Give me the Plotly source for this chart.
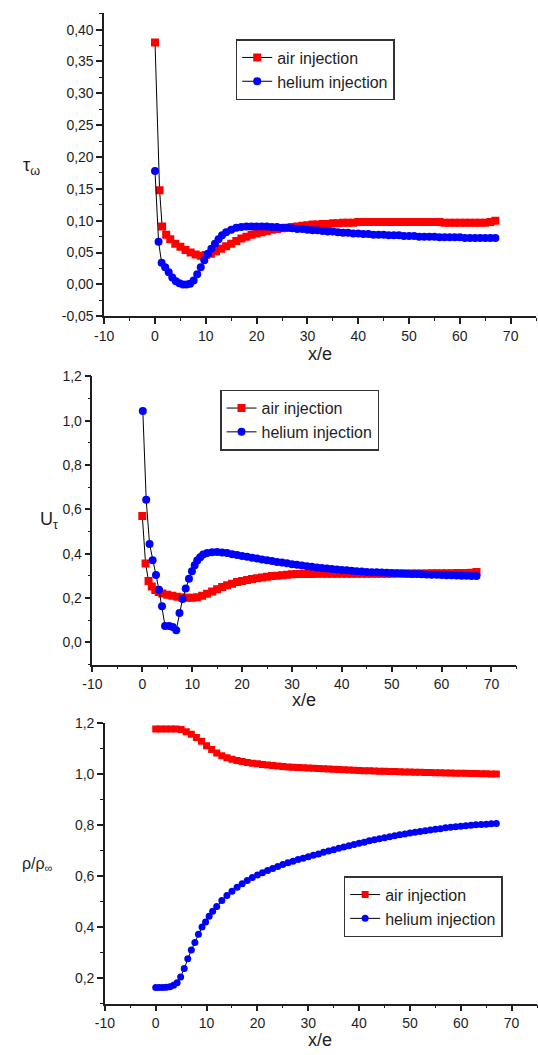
import plotly.graph_objects as go

# ---------------- data ----------------
# wall shear stress tau_w
tau_air_x = [0, 0.9, 1.4, 2.2, 3, 4, 5, 6, 7, 8, 9, 10, 11, 12, 13, 14, 15, 16, 17, 18, 19, 20,
             21, 22, 23, 24, 25, 26, 27, 28, 29, 30, 31, 32, 33, 34, 35, 36, 37, 38, 39, 40,
             41, 42, 43, 44, 45, 46, 47, 48, 49, 50, 51, 52, 53, 54, 55, 56, 57, 58, 59, 60,
             61, 62, 63, 64, 65, 66, 67]
tau_air_y = [0.380, 0.148, 0.091, 0.078, 0.071, 0.064, 0.059, 0.054, 0.050, 0.047, 0.045, 0.046,
             0.048, 0.052, 0.056, 0.060, 0.064, 0.068, 0.072, 0.075, 0.078, 0.080,
             0.082, 0.084, 0.086, 0.087, 0.088, 0.089, 0.090, 0.091, 0.092, 0.093, 0.094, 0.094,
             0.095, 0.095, 0.096, 0.096, 0.097, 0.097, 0.097, 0.098,
             0.098, 0.098, 0.098, 0.098, 0.098, 0.098, 0.098, 0.098, 0.098, 0.098, 0.098, 0.098,
             0.098, 0.098, 0.098, 0.098, 0.097, 0.097, 0.097, 0.097,
             0.097, 0.097, 0.097, 0.097, 0.097, 0.098, 0.100]

tau_he_x = [0, 0.7, 1.3, 2, 2.7, 3.4, 4.1, 4.8, 5.5, 6.2, 6.9, 7.6, 8.3, 9, 9.7, 10.4, 11.1, 11.8,
            12.5, 13.2, 14, 15, 16, 17, 18, 19, 20, 21, 22, 23, 24, 25, 26, 27, 28, 29, 30,
            31, 32, 33, 34, 35, 36, 37, 38, 39, 40, 41, 42, 43, 44, 45, 46, 47, 48, 49, 50,
            51, 52, 53, 54, 55, 56, 57, 58, 59, 60, 61, 62, 63, 64, 65, 66, 67]
tau_he_y = [0.178, 0.067, 0.034, 0.027, 0.019, 0.011, 0.005, 0.002, 0.000, 0.000, 0.001, 0.006,
            0.016, 0.027, 0.038, 0.048, 0.056, 0.064, 0.071, 0.077, 0.082, 0.086, 0.089, 0.090,
            0.091, 0.091, 0.091, 0.091, 0.091, 0.090, 0.090, 0.089, 0.089, 0.088, 0.087, 0.087,
            0.086, 0.085, 0.085, 0.084, 0.083, 0.083, 0.082, 0.081, 0.081, 0.080, 0.080,
            0.079, 0.079, 0.078, 0.078, 0.078, 0.077, 0.077, 0.077, 0.076, 0.076,
            0.076, 0.075, 0.075, 0.075, 0.075, 0.074, 0.074, 0.074, 0.074, 0.074,
            0.073, 0.073, 0.073, 0.073, 0.073, 0.073, 0.073]

# friction velocity U_tau
u_air_x = [0, 0.65, 1.25, 1.9, 2.6, 3.3, 4, 5, 6, 7, 8, 9, 10, 11, 12, 13, 14, 15, 16, 17, 18,
           19, 20, 21, 22, 23, 24, 25, 26, 27, 28, 29, 30, 31, 32, 33, 34, 35, 36, 37, 38, 39,
           40, 41, 42, 43, 44, 45, 46, 47, 48, 49, 50, 51, 52, 53, 54, 55, 56, 57, 58, 59, 60,
           61, 62, 63, 64, 65, 66, 67]
u_air_y = [0.570, 0.356, 0.277, 0.252, 0.236, 0.227, 0.221, 0.215, 0.210, 0.206, 0.203, 0.201,
           0.201, 0.204, 0.210, 0.220, 0.230, 0.240, 0.250, 0.258, 0.265,
           0.272, 0.277, 0.282, 0.286, 0.289, 0.293, 0.296, 0.299, 0.301, 0.303, 0.305, 0.307,
           0.308, 0.308, 0.309, 0.309, 0.310, 0.310, 0.310, 0.310, 0.310,
           0.310, 0.310, 0.310, 0.310, 0.310, 0.310, 0.310, 0.310, 0.310, 0.310, 0.310,
           0.311, 0.311, 0.311, 0.311, 0.311, 0.311, 0.311, 0.312, 0.312, 0.312,
           0.312, 0.312, 0.313, 0.313, 0.313, 0.314, 0.318]

u_he_x = [0.1, 0.78, 1.45, 2.06, 2.74, 3.34, 3.95, 4.56, 5.4, 6.1, 6.8, 7.45, 8.07, 8.7, 9.35,
          9.95, 10.5, 11, 11.6, 12.2, 13, 14, 15, 16, 17, 18, 19, 20, 21, 22, 23, 24, 25, 26,
          27, 28, 29, 30, 31, 32, 33, 34, 35, 36, 37, 38, 39, 40, 41, 42, 43, 44, 45, 46, 47,
          48, 49, 50, 51, 52, 53, 54, 55, 56, 57, 58, 59, 60, 61, 62, 63, 64, 65, 66, 67]
u_he_y = [1.044, 0.643, 0.444, 0.370, 0.304, 0.237, 0.163, 0.074, 0.074, 0.070, 0.055, 0.133,
          0.196, 0.243, 0.287, 0.321, 0.348, 0.369, 0.384, 0.396, 0.403, 0.407, 0.408, 0.406,
          0.403, 0.398, 0.394, 0.390, 0.386, 0.382, 0.378, 0.374, 0.370, 0.367,
          0.363, 0.360, 0.357, 0.353, 0.350, 0.347, 0.344, 0.341, 0.338, 0.336, 0.333, 0.331,
          0.329, 0.327, 0.325, 0.323, 0.321, 0.320, 0.318, 0.317, 0.316,
          0.315, 0.314, 0.313, 0.312, 0.311, 0.310, 0.309, 0.308, 0.307, 0.306, 0.305, 0.305,
          0.304, 0.303, 0.303, 0.302, 0.301, 0.301, 0.300, 0.300]

# density ratio rho/rho_inf
rho_air_x = [0, 1, 2, 3, 4, 5, 6, 7, 8, 9, 10, 11, 12, 13, 14, 15, 16, 17, 18, 19, 20, 21, 22,
             23, 24, 25, 26, 27, 28, 29, 30, 31, 32, 33, 34, 35, 36, 37, 38, 39, 40, 41, 42, 43,
             44, 45, 46, 47, 48, 49, 50, 51, 52, 53, 54, 55, 56, 57, 58, 59, 60, 61, 62, 63,
             64, 65, 66, 67]
rho_air_y = [1.176, 1.176, 1.176, 1.176, 1.176, 1.174, 1.166, 1.156, 1.143, 1.128, 1.111, 1.096,
             1.082, 1.072, 1.064, 1.058, 1.053, 1.049, 1.045, 1.042, 1.040, 1.037, 1.035,
             1.033, 1.031, 1.029, 1.028, 1.027, 1.026, 1.025, 1.024, 1.023, 1.022, 1.021, 1.020,
             1.019, 1.018, 1.017, 1.016, 1.015, 1.014, 1.013, 1.013, 1.012,
             1.011, 1.011, 1.010, 1.010, 1.009, 1.008, 1.008, 1.007, 1.007, 1.006, 1.006, 1.005,
             1.005, 1.004, 1.004, 1.003, 1.003, 1.003, 1.002, 1.002,
             1.001, 1.001, 1.000, 1.000]

rho_he_x = [0, 0.7, 1.4, 2.1, 2.8, 3.5, 4.2, 4.9, 5.6, 6.3, 7, 7.7, 8.4, 9.1, 9.8, 10.5, 11.2,
            12, 13, 14, 15, 16, 17, 18, 19, 20, 21, 22, 23, 24, 25, 26, 27, 28, 29, 30, 31, 32,
            33, 34, 35, 36, 37, 38, 39, 40, 41, 42, 43, 44, 45, 46, 47, 48, 49, 50, 51, 52, 53,
            54, 55, 56, 57, 58, 59, 60, 61, 62, 63, 64, 65, 66, 67]
rho_he_y = [0.163, 0.163, 0.163, 0.164, 0.166, 0.172, 0.182, 0.205, 0.238, 0.276, 0.310, 0.340,
            0.372, 0.400, 0.420, 0.443, 0.462, 0.481, 0.504, 0.524, 0.541, 0.556, 0.570, 0.583,
            0.594, 0.604, 0.613, 0.622, 0.630, 0.638, 0.645, 0.652, 0.658, 0.665, 0.670, 0.676,
            0.682, 0.687, 0.693, 0.698, 0.703, 0.709, 0.714, 0.719, 0.724, 0.729, 0.733, 0.738,
            0.742, 0.746, 0.750, 0.754, 0.758, 0.762, 0.765, 0.769, 0.772, 0.775, 0.778, 0.781,
            0.784, 0.786, 0.789, 0.791, 0.793, 0.795, 0.797, 0.799, 0.801, 0.802, 0.803, 0.805,
            0.806]

series_names = ["air injection", "helium injection"]

x_major = [-10, 0, 10, 20, 30, 40, 50, 60, 70]
x_major_text = ["-10", "0", "10", "20", "30", "40", "50", "60", "70"]
x_minor = [-5, 5, 15, 25, 35, 45, 55, 65, 75]

tau_major = [-0.05, 0.0, 0.05, 0.10, 0.15, 0.20, 0.25, 0.30, 0.35, 0.40]
tau_major_text = ["-0,05", "0,00", "0,05", "0,10", "0,15", "0,20", "0,25", "0,30", "0,35", "0,40"]
tau_minor = [-0.025, 0.025, 0.075, 0.125, 0.175, 0.225, 0.275, 0.325, 0.375, 0.425]

u_major = [0.0, 0.2, 0.4, 0.6, 0.8, 1.0, 1.2]
u_major_text = ["0,0", "0,2", "0,4", "0,6", "0,8", "1,0", "1,2"]
u_minor = [-0.1, 0.1, 0.3, 0.5, 0.7, 0.9, 1.1]

rho_major = [0.2, 0.4, 0.6, 0.8, 1.0, 1.2]
rho_major_text = ["0,2", "0,4", "0,6", "0,8", "1,0", "1,2"]
rho_minor = [0.1, 0.3, 0.5, 0.7, 0.9, 1.1]

# ---------------- figure ----------------
W, H = 538, 1055
FONT = "Liberation Sans, Arial, sans-serif"
INK = "#1e1e1e"
RED = "#ff0000"
BLUE = "#0000ff"


def px_x(p):
    return p / W


def px_y(p):
    return 1 - p / H


fig = go.Figure()

panels = [
    ("x", "y", "legend", (tau_air_x, tau_air_y), (tau_he_x, tau_he_y), 8),
    ("x2", "y2", "legend2", (u_air_x, u_air_y), (u_he_x, u_he_y), 8),
    ("x3", "y3", "legend3", (rho_air_x, rho_air_y), (rho_he_x, rho_he_y), 7),
]

for xa, ya, lg, air, he, msize in panels:
    fig.add_trace(go.Scatter(
        x=air[0], y=air[1], name=series_names[0], mode="lines+markers",
        xaxis=xa, yaxis=ya, legend=lg,
        line=dict(color="black", width=1),
        marker=dict(symbol="square", color=RED, size=msize, line=dict(width=0)),
    ))
    fig.add_trace(go.Scatter(
        x=he[0], y=he[1], name=series_names[1], mode="lines+markers",
        xaxis=xa, yaxis=ya, legend=lg,
        line=dict(color="black", width=1),
        marker=dict(symbol="circle", color=BLUE, size=msize, line=dict(width=0)),
    ))


def axis_style(domain, rng, tickvals, ticktext, minor_vals, anchor):
    return dict(
        domain=domain, range=rng, anchor=anchor,
        tickmode="array", tickvals=tickvals, ticktext=ticktext,
        showline=True, linecolor=INK, linewidth=1.5,
        ticks="outside", ticklen=6, tickwidth=1.5, tickcolor=INK,
        minor=dict(tickmode="array", tickvals=minor_vals, ticks="outside",
                   ticklen=3, tickwidth=1.3, tickcolor=INK, showgrid=False),
        showgrid=False, zeroline=False, mirror=False,
        tickfont=dict(family=FONT, size=14, color=INK),
    )


fig.update_layout(
    width=W, height=H, autosize=False,
    margin=dict(l=0, r=0, t=0, b=0),
    paper_bgcolor="white", plot_bgcolor="white",
    font=dict(family=FONT, color=INK),
    xaxis=axis_style([px_x(96), px_x(536)], [-10, 75], x_major, x_major_text, x_minor, "y"),
    yaxis=axis_style([px_y(313), px_y(5.5)], [-0.05, 0.4255], tau_major, tau_major_text,
                     tau_minor, "x"),
    xaxis2=axis_style([px_x(84), px_x(516)], [-10, 75], x_major, x_major_text, x_minor, "y2"),
    yaxis2=axis_style([px_y(666.7), px_y(374)], [-0.1, 1.2], u_major, u_major_text,
                      u_minor, "x2"),
    xaxis3=axis_style([px_x(96.7), px_x(537)], [-10, 75], x_major, x_major_text, x_minor, "y3"),
    yaxis3=axis_style([px_y(1011), px_y(726)], [0.1, 1.2], rho_major, rho_major_text,
                      rho_minor, "x3"),
)

legend_common = dict(
    xanchor="center", yanchor="middle", bgcolor="white",
    bordercolor="#333333", borderwidth=1.5,
    font=dict(family=FONT, size=16, color=INK),
    tracegroupgap=0, itemsizing="trace",
)
fig.update_layout(
    legend=dict(x=px_x(311), y=px_y(62.5), **legend_common),
    legend2=dict(x=px_x(295), y=px_y(418.5), **legend_common),
    legend3=dict(x=px_x(421), y=px_y(912.5), **legend_common),
)

labels = [
    ("τ<sub>ω</sub>", 22, 161, 18),
    ("U<sub>τ</sub>", 40, 520, 18),
    ("ρ/ρ<sub>∞</sub>", 28, 870, 16),
    ("x/e", 316, 351, 18),
    ("x/e", 300, 703, 18),
    ("x/e", 316, 1048, 18),
]
for text, lx, ly, fs in labels:
    fig.add_annotation(
        text=text, x=px_x(lx), y=px_y(ly), xref="paper", yref="paper",
        xanchor="center", yanchor="middle", showarrow=False,
        font=dict(family=FONT, size=fs, color=INK),
    )

fig.write_html("out.html")
